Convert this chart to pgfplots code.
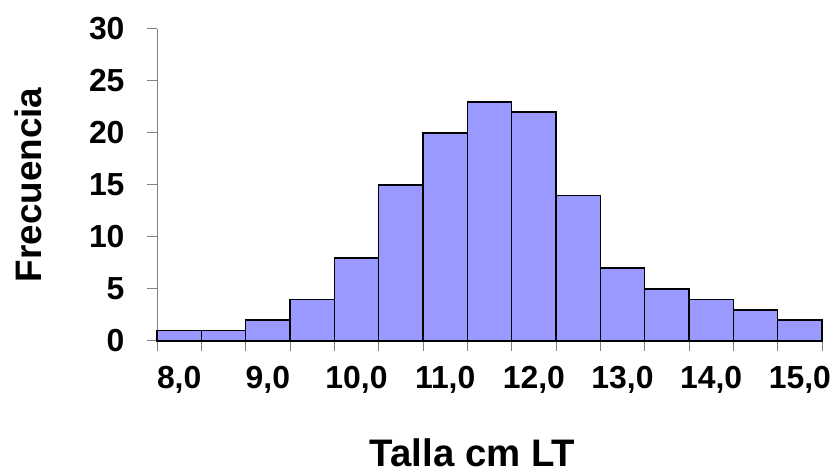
\documentclass[border=0pt]{standalone}
\usepackage{pgfplots}
\pgfplotsset{compat=1.18}
\usepackage{fontspec}
\setmainfont{Liberation Sans}
\definecolor{barfill}{HTML}{9999FF}
\definecolor{axgray}{HTML}{808080}
\begin{document}
\begin{tikzpicture}[x=1bp,y=1bp]
\path[use as bounding box] (0,0) rectangle (836,476);
\begin{axis}[
  at={(157bp,135bp)}, anchor=south west,
  scale only axis, width=665bp, height=312bp,
  xmin=-0.5, xmax=14.5, ymin=0, ymax=30,
  clip=false,
  axis x line*=bottom, axis y line*=left,
  axis line style={axgray, line width=1bp},
  ytick={0,5,...,30},
  xtick={-0.5,0.5,...,14.5}, xticklabels={},
  extra x ticks={0,2,...,14},
  extra x tick labels={8{,}0,9{,}0,10{,}0,11{,}0,12{,}0,13{,}0,14{,}0,15{,}0},
  extra x tick style={major tick length=0pt, grid=none},
  tick align=outside, major tick length=10bp,
  tick style={axgray, line width=1bp},
  ticklabel style={font=\bfseries\fontsize{32}{32}\selectfont},
  xticklabel style={yshift=-22bp},
  yticklabel style={xshift=-19bp},
  /pgf/number format/assume math mode=true,
  xlabel={Talla cm LT}, ylabel={Frecuencia},
  label style={font=\bfseries\fontsize{37}{37}\selectfont},
  xlabel style={font=\bfseries\fontsize{38.5}{38.5}\selectfont, at={([xshift=-17bp,yshift=-126bp]axis description cs:0.5,0)}, anchor=base},
  ylabel style={at={([xshift=-115bp]axis description cs:0,0.5)}, anchor=base},
]
\addplot[ybar, bar width=1, fill=barfill, draw=black, line width=1.6bp]
  coordinates {(0,1)(1,1)(2,2)(3,4)(4,8)(5,15)(6,20)(7,23)(8,22)(9,14)(10,7)(11,5)(12,4)(13,3)(14,2)};
\end{axis}
\end{tikzpicture}
\end{document}
